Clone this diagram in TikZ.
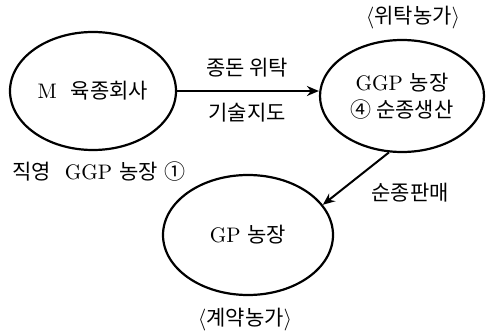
\documentclass[tikz,border=0pt]{standalone}
\usepackage{fontspec}
\newfontfamily\kor{Noto Sans CJK KR}
\usetikzlibrary{shapes.geometric,positioning,arrows.meta}
\newcommand\kortext{\fontsize{10.5}{12.5}\selectfont}
\tikzset{
    farm/.style = {ellipse, draw=black, line width=1.1pt, inner sep=0pt, align=center, font=\kortext},
    lbl/.style = {inner sep=1pt, font=\kortext},
    arrow/.style = {line width=1pt,-{Stealth[length=6pt,width=5pt]}}
}

\begin{document}
\begin{tikzpicture}[x=0.5pt, y=-0.5pt]
\useasboundingbox (0,0) rectangle (486,331);
\node (breeder) [farm, minimum width=83pt, minimum height=59pt] at (93,91) {M\ \ {\kor 육종회사}};
\node (ggp) [farm, minimum width=82pt, minimum height=56pt] at (402,96) {GGP {\kor 농장}\\[1pt]{\kor ④ 순종생산}};
\node (gp) [farm, minimum width=85pt, minimum height=60pt] at (248,235) {GP {\kor 농장}};

\node (entrustfarm) [lbl] at (413,18) {$\langle${\kor 위탁농가}$\rangle$};
\node (contractfarm) [lbl] at (245,320) {$\langle${\kor 계약농가}$\rangle$};
\node (direct) [lbl] at (99,172) {{\kor 직영}\ \ GGP {\kor 농장} {\kor ①}};
\node (consign) [lbl] at (247,68) {\kor 종돈 위탁};
\node (guide) [lbl] at (247,113) {\kor 기술지도};
\node (sale) [lbl] at (410,193) {\kor 순종판매};

\draw [arrow] (breeder.east) -- (breeder.east -| ggp.west);
\draw [arrow] (ggp.257) -- (gp.22);
\end{tikzpicture}
\end{document}
